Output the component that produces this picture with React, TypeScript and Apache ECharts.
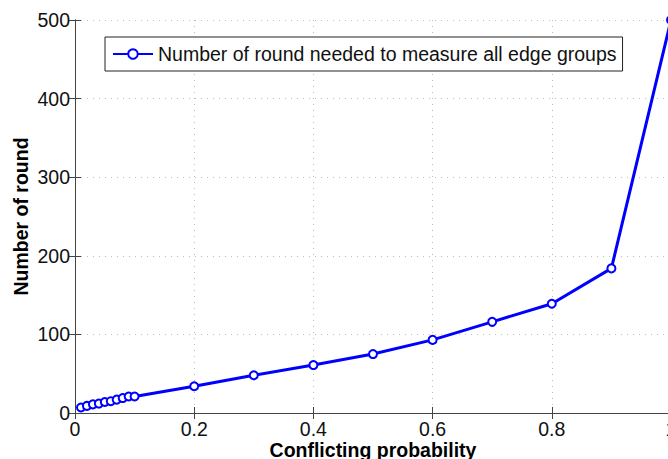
import React, { useEffect, useRef } from "react";
import * as echarts from "echarts";

const xValues = [0.01, 0.02, 0.03, 0.04, 0.05, 0.06, 0.07, 0.08, 0.09, 0.1, 0.2, 0.3, 0.4, 0.5, 0.6, 0.7, 0.8, 0.9, 1.0];
const rounds = [7, 9, 11, 12, 14, 15, 17, 19, 21, 21, 34, 48, 61, 75, 93, 116, 139, 184, 500];
const seriesName = "Number of round needed to measure all edge groups";
const xAxisName = "Conflicting probability";
const yAxisName = "Number of round";

export default function App() {
  const ref = useRef<HTMLDivElement>(null);
  useEffect(() => {
    if (!ref.current) return;
    const chart = echarts.init(ref.current, null, { renderer: "svg" });
    const font = "Liberation Sans, Arial, Helvetica, sans-serif";
    const fs = 19.5;
    const axisLine = { show: true, lineStyle: { color: "#444", width: 1 } };
    const splitLine = { show: true, lineStyle: { color: "#bdbdbd", type: [1, 5] as any, width: 1 } };
    chart.setOption({
      animation: false,
      backgroundColor: "#fff",
      grid: { left: 75, top: 20, width: 596, height: 393, containLabel: false, outerBoundsMode: "none" },
      legend: {
        data: [seriesName],
        left: 105,
        top: 37,
        padding: [7, 6, 7, 7],
        borderColor: "#222",
        borderWidth: 1,
        backgroundColor: "#fff",
        itemWidth: 40,
        itemHeight: 12,
        itemGap: 6,
        textStyle: { fontSize: fs, color: "#111", fontFamily: font },
      },
      xAxis: [
        {
          type: "value",
          min: 0,
          max: 1,
          interval: 0.2,
          name: xAxisName,
          nameLocation: "middle",
          nameGap: 27,
          nameMoveOverlap: false,
          nameTextStyle: { fontSize: fs, fontWeight: "bold", color: "#000", fontFamily: font },
          axisLine,
          axisTick: { show: true, inside: true, length: 6, lineStyle: { color: "#444" } },
          axisLabel: { fontSize: fs, color: "#111", fontFamily: font, margin: 6, formatter: (v: number) => String(Number(v.toFixed(1))) },
          splitLine,
        },
        {
          type: "value",
          position: "top",
          min: 0,
          max: 1,
          interval: 0.2,
          axisLine,
          axisTick: { show: true, inside: true, length: 6, lineStyle: { color: "#444" } },
          axisLabel: { show: false },
          splitLine: { show: false },
        },
      ],
      yAxis: [
        {
          type: "value",
          min: 0,
          max: 500,
          interval: 100,
          name: yAxisName,
          nameLocation: "middle",
          nameGap: 44,
          nameMoveOverlap: false,
          nameTextStyle: { fontSize: fs, fontWeight: "bold", color: "#000", fontFamily: font },
          axisLine,
          axisTick: { show: true, inside: true, length: 6, lineStyle: { color: "#444" } },
          axisLabel: { fontSize: fs, color: "#111", fontFamily: font, margin: 5 },
          splitLine,
        },
        {
          type: "value",
          position: "right",
          min: 0,
          max: 500,
          interval: 100,
          axisLine,
          axisTick: { show: true, inside: true, length: 6, lineStyle: { color: "#444" } },
          axisLabel: { show: false },
          splitLine: { show: false },
        },
      ],
      series: [
        {
          name: seriesName,
          type: "line",
          data: xValues.map((x, i) => [x, rounds[i]]),
          symbol: "emptyCircle",
          symbolSize: 8,
          showAllSymbol: true,
          lineStyle: { color: "#0000ff", width: 3 },
          itemStyle: { color: "#0000ff", borderColor: "#0000ff", borderWidth: 3.5 },
          clip: false,
        },
      ],
    });
    return () => chart.dispose();
  }, []);
  return <div ref={ref} style={{ width: 668, height: 459, position: "absolute", left: 0, top: 0 }} />;
}
